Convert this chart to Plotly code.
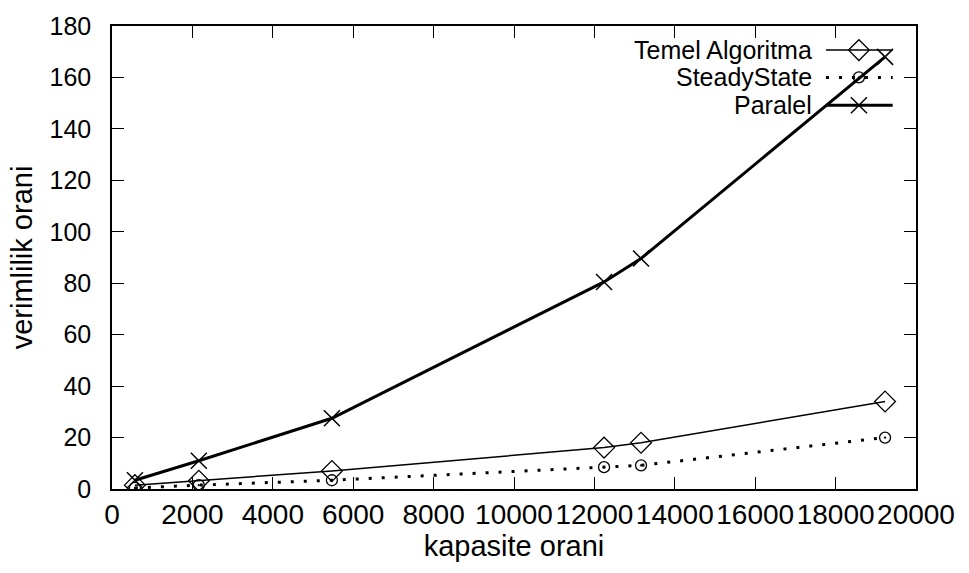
import plotly.graph_objects as go

# capacity ratio (x) and efficiency ratio (y) for each method
kapasite = [570, 2160, 5470, 12240, 13160, 19230]
temel_algoritma = [1.5, 3.2, 7.0, 16.1, 18.0, 34.0]
steady_state = [0.4, 1.5, 3.4, 8.5, 9.2, 20.0]
paralel = [3.4, 11.0, 27.5, 80.5, 89.6, 168.0]

x_ticks = list(range(0, 20001, 2000))
y_ticks = list(range(0, 181, 20))

series_names = ["Temel Algoritma", "SteadyState", "Paralel"]

FONT = "Liberation Sans, Arial, Helvetica, sans-serif"
BLACK = "#000000"

styles = [
    dict(line=dict(color=BLACK, width=1.5),
         marker=dict(symbol="diamond-open", size=16, color=BLACK, line=dict(width=1.3, color=BLACK))),
    dict(line=dict(color=BLACK, width=3, dash="3px,10px"),
         marker=dict(symbol="circle-open-dot", size=11, color=BLACK, line=dict(width=1.3, color=BLACK))),
    dict(line=dict(color=BLACK, width=3),
         marker=dict(symbol="x-thin-open", size=16, color=BLACK, line=dict(width=1.5, color=BLACK))),
]

fig = go.Figure()

for name, ys, st in zip(series_names, [temel_algoritma, steady_state, paralel], styles):
    fig.add_trace(go.Scatter(x=kapasite, y=ys, mode="lines+markers", name=name,
                             line=st["line"], marker=st["marker"], showlegend=False))

# gnuplot-style key: right-aligned labels with the line sample to their right
key_rows = [0.948, 0.889, 0.829]
for name, row, st in zip(series_names, key_rows, styles):
    fig.add_trace(go.Scatter(x=[0.888, 0.971], y=[row, row], mode="lines",
                             line=st["line"], xaxis="x2", yaxis="y2",
                             showlegend=False, hoverinfo="skip"))
    fig.add_trace(go.Scatter(x=[0.929], y=[row], mode="markers",
                             marker=st["marker"], xaxis="x2", yaxis="y2",
                             showlegend=False, hoverinfo="skip"))
    fig.add_annotation(text=name, xref="x2", yref="y2", x=0.873, y=row,
                       xanchor="right", yanchor="middle", showarrow=False,
                       font=dict(family=FONT, size=25, color=BLACK))

axis_common = dict(
    showgrid=False, zeroline=False, showline=True, linecolor=BLACK, linewidth=1.5,
    mirror="allticks", ticks="inside", ticklen=12, tickwidth=1.3, tickcolor=BLACK,
)

fig.update_layout(
    width=969, height=573,
    margin=dict(l=112, r=53, t=17, b=84),
    paper_bgcolor="white", plot_bgcolor="white",
    font=dict(family=FONT, size=29, color=BLACK),
    xaxis=dict(range=[0, 20000], tickvals=x_ticks, ticktext=[str(v) for v in x_ticks],
               title=dict(text="kapasite orani", font=dict(size=29), standoff=0),
               tickfont=dict(size=28), ticklabelstandoff=0, **axis_common),
    yaxis=dict(range=[0, 180], tickvals=y_ticks, ticktext=[str(v) for v in y_ticks],
               title=dict(text="verimlilik orani", font=dict(size=29), standoff=8),
               tickfont=dict(size=25), ticklabelstandoff=14, **axis_common),
    xaxis2=dict(range=[0, 1], overlaying="x", visible=False, domain=[0, 1]),
    yaxis2=dict(range=[0, 1], overlaying="y", visible=False, domain=[0, 1]),
)

fig.write_html("out.html")
